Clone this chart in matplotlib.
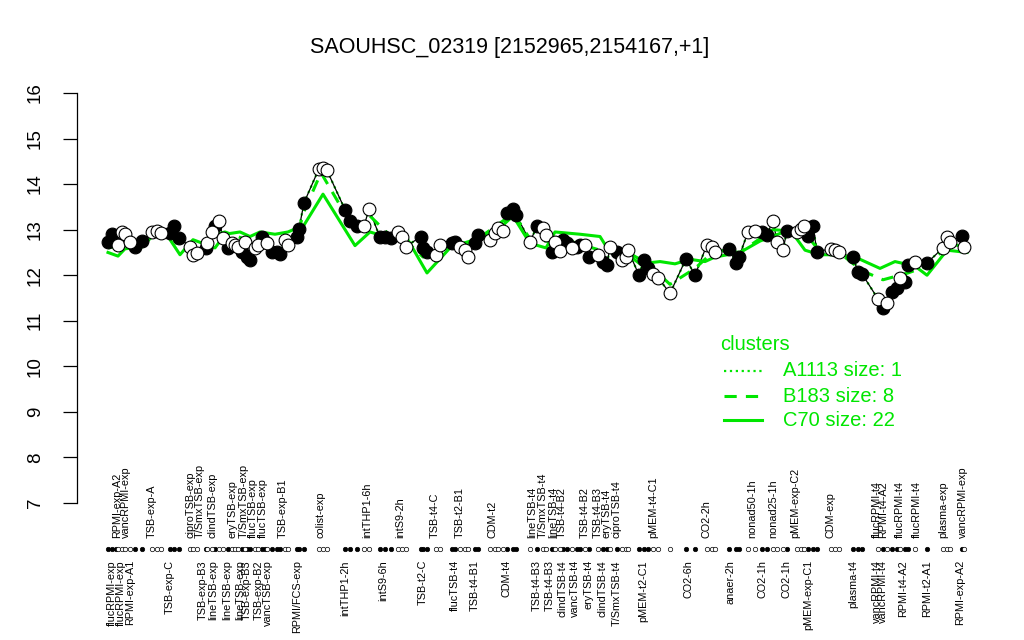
import matplotlib
matplotlib.use("Agg")
import matplotlib.pyplot as plt
from matplotlib.lines import Line2D
from matplotlib.transforms import blended_transform_factory

plt.rcParams['font.family'] = ['Liberation Sans', 'DejaVu Sans']

title = "SAOUHSC_02319 [2152965,2154167,+1]"

# position along the condition axis, expression value, filled (1) / open (0)
pos = [8, 12, 16, 18, 22, 25, 30, 35, 42,
       52, 57, 61,
       70, 74, 79,
       90, 93, 97,
       106, 107, 112, 115, 119, 123, 128, 132, 135, 138, 142, 145, 147, 150,
       155, 158, 162, 165, 167, 172, 177, 180, 185, 188,
       197, 199, 204,
       219, 223, 227,
       245, 250, 257,
       264, 269,
       280, 285, 291,
       298, 302, 306,
       321, 323, 327,
       336, 340,
       352, 355, 360, 365, 368, 375, 378,
       390, 395, 398, 403, 407, 413, 416,
       430,
       437, 443, 446, 452, 455, 460, 463, 467, 472, 477, 480, 485, 489, 498,
       503, 507, 510, 517, 522, 526, 528,
       539, 544, 548, 553, 558,
       570,
       586, 595,
       607, 612, 615,
       629, 636, 639,
       648, 655, 662, 667, 673, 677, 683, 687,
       697, 701, 704, 708, 713, 717,
       731, 735, 739,
       753, 758, 762,
       778, 783, 787, 792, 797, 800, 805, 808, 815,
       827,
       843, 847, 850,
       862, 864]
expr = [12.73, 12.9, 12.8, 12.67, 12.95, 12.9, 12.73, 12.63, 12.75,
        12.95, 12.97, 12.93,
        12.93, 13.07, 12.82,
        12.63, 12.45, 12.48,
        12.6, 12.71, 12.95, 13.07, 13.2, 12.82, 12.6, 12.71, 12.67, 12.63, 12.5, 12.74, 12.41, 12.34,
        12.6, 12.67, 12.85, 12.74, 12.71, 12.52, 12.5, 12.47, 12.78, 12.67,
        12.85, 13.02, 13.59,
        14.34, 14.36, 14.3,
        13.44, 13.18, 13.07,
        13.07, 13.46,
        12.83, 12.83, 12.82,
        12.95, 12.85, 12.63,
        12.85, 12.6, 12.52,
        12.45, 12.67,
        12.71, 12.74, 12.63, 12.56, 12.41, 12.71, 12.89,
        12.78, 12.93, 13.04, 12.98, 13.37, 13.46, 13.33,
        12.74,
        13.07, 13.04, 12.89, 12.52, 12.74, 12.54, 12.78, 12.71, 12.6, 12.63, 12.67, 12.67, 12.39, 12.45,
        12.3, 12.23, 12.63, 12.5, 12.34, 12.39, 12.56,
        12.0, 12.34, 12.16, 12.03, 11.95,
        11.6,
        12.36, 12.0,
        12.67, 12.63, 12.52,
        12.58, 12.27, 12.4,
        12.95, 12.98, 12.95, 12.89, 13.2, 12.74, 12.56, 12.98,
        12.95, 13.02, 13.07, 12.87, 13.07, 12.52,
        12.58, 12.56, 12.5,
        12.39, 12.08, 12.03,
        11.48, 11.28, 11.39, 11.63, 11.72, 11.95, 11.86, 12.23, 12.3,
        12.27,
        12.6, 12.85, 12.72,
        12.87, 12.63]
filled = [1, 1, 1, 0, 0, 0, 0, 1, 1,
          0, 0, 0,
          1, 1, 1,
          0, 0, 0,
          1, 0, 0, 1, 0, 0, 1, 0, 0, 0, 1, 0, 1, 1,
          0, 0, 1, 1, 0, 1, 1, 1, 0, 0,
          1, 1, 1,
          0, 0, 0,
          1, 1, 1,
          0, 0,
          1, 1, 1,
          0, 0, 0,
          1, 1, 1,
          0, 0,
          1, 1, 0, 0, 0, 1, 1,
          0, 0, 0, 0, 1, 1, 1,
          0,
          1, 0, 0, 1, 0, 0, 1, 1, 0, 1, 1, 0, 1, 0,
          1, 1, 0, 1, 0, 0, 0,
          1, 1, 1, 0, 0,
          0,
          1, 1,
          0, 0, 0,
          1, 1, 1,
          0, 0, 1, 1, 0, 0, 0, 1,
          0, 0, 0, 1, 1, 1,
          0, 0, 0,
          1, 1, 1,
          0, 1, 0, 1, 1, 0, 1, 1, 0,
          1,
          0, 0, 0,
          1, 0]

# cluster profiles
c70_pos = [8, 18, 25, 42, 52, 65, 80, 93, 115, 125, 140, 150, 160, 175, 188, 204, 223,
           255, 270, 285, 306, 327, 350, 378, 403, 413, 430, 446, 455, 480, 500, 510,
           528, 540, 560, 575, 590, 605, 615, 640, 660, 690, 705, 720, 740, 760, 780,
           795, 815, 827, 847, 867]
c70_val = [12.5, 12.42, 12.58, 12.62, 12.85, 12.95, 12.45, 12.78, 12.6, 12.9, 12.95, 12.85,
           12.95, 12.9, 12.95, 13.1, 13.78, 12.65, 12.95, 12.85, 12.85, 12.05, 12.6, 12.75,
           13.1, 13.3, 12.7, 12.6, 12.95, 12.9, 12.85, 12.5, 12.45, 12.25, 12.3, 12.25,
           12.35, 12.3, 12.4, 12.5, 12.75, 13.0, 12.55, 12.45, 12.45, 12.35, 12.15, 12.3,
           12.2, 12.0, 12.55, 12.5]
b183_pos = [8, 30, 52, 70, 80, 97, 110, 125, 150, 180, 197, 204, 221, 245, 257, 270, 291,
            306, 323, 340, 378, 413, 430, 446, 470, 500, 528, 548, 570, 595, 615, 640,
            673, 704, 717, 739, 762, 783, 808, 827, 850, 867]
b183_val = [12.6, 12.7, 12.9, 12.9, 12.6, 12.5, 12.85, 12.95, 12.75, 12.8, 12.85, 13.4,
            14.25, 13.35, 13.0, 13.3, 12.85, 12.75, 12.4, 12.55, 12.8, 13.35, 12.8, 12.75,
            12.75, 12.55, 12.5, 12.25, 11.8, 12.15, 12.55, 12.5, 13.0, 12.95, 12.6, 12.5,
            12.1, 11.9, 12.05, 12.2, 12.7, 12.6]

top_labels = [(17, "RPMI-exp-A2"), (26, "vancRPMI-exp"), (52, "TSB-exp-A"),
              (90, "ciproTSB-exp"), (100, "T/SmxTSB-exp"), (112, "clindTSB-exp"),
              (133, "eryTSB-exp"), (144, "T/SmxTSB-exp"), (153, "flucTSB-exp"),
              (163, "flucTSB-exp"), (183, "TSB-exp-B1"), (220, "colist-exp"),
              (267, "intTHP1-6h"), (300, "intS9-2h"), (335, "TSB-t4-C"),
              (360, "TSB-t2-B1"), (392, "CDM-t2"), (432, "lineTSB-t4"),
              (443, "T/SmxTSB-t4"), (453, "lineTSB-t4"), (462, "TSB-t4-B2"),
              (485, "TSB-t4-B2"), (498, "TSB-t4-B3"), (507, "eryTSB-t4"),
              (517, "ciproTSB-t4"), (553, "pMEM-t4-C1"), (607, "CO2-2h"),
              (652, "nonad50-1h"), (673, "nonad25-1h"), (695, "pMEM-exp-C2"),
              (730, "CDM-exp"), (777, "flucRPMI-t4"), (783, "RPMI-t4-A2"),
              (800, "flucRPMI-t4"), (817, "flucRPMI-t4"), (843, "plasma-exp"),
              (863, "vancRPMI-exp")]
bottom_labels = [(12, "flucRPMI-exp"), (21, "flucRPMI-exp"), (30, "RPMI-exp-A1"),
                 (70, "TSB-exp-C"), (103, "TSB-exp-B3"), (113, "lineTSB-exp"),
                 (127, "lineTSB-exp"), (140, "lineTSB-exp"), (147, "TSB-exp-B3"),
                 (159, "TSB-exp-B2"), (168, "vancTSB-exp"), (197, "RPMI/FCS-exp"),
                 (245, "intTHP1-2h"), (283, "intS9-6h"), (323, "TSB-t2-C"),
                 (355, "flucTSB-t4"), (375, "TSB-t4-B1"), (407, "CDM-t4"),
                 (437, "TSB-t4-B3"), (450, "TSB-t4-B3"), (462, "clindTSB-t4"),
                 (475, "vancTSB-t4"), (488, "eryTSB-t4"), (503, "clindTSB-t4"),
                 (517, "T/SmxTSB-t4"), (543, "pMEM-t2-C1"), (588, "CO2-6h"),
                 (630, "anaer-2h"), (663, "CO2-1h"), (687, "CO2-1h"),
                 (708, "pMEM-exp-C1"), (753, "plasma-t4"), (777, "vancRPMI-t4"),
                 (783, "vancRPMI-t4"), (803, "RPMI-t4-A2"), (827, "RPMI-t2-A1"),
                 (860, "RPMI-exp-A2")]

green = "#00e600"

fig = plt.figure(figsize=(10.24, 6.4), dpi=100)
ax = fig.add_axes([77 / 1024, 0.1884, 913 / 1024, 0.6919])
ax.set_xlim(-23, 890)
ax.set_ylim(6.64, 16.36)

for s in ["top", "right", "bottom"]:
    ax.spines[s].set_visible(False)
ax.spines["left"].set_bounds(7, 16)
ax.spines["left"].set_linewidth(0.9)
ax.set_xticks([])
ax.set_yticks(range(7, 17))
ax.tick_params(axis="y", length=10, width=0.9, pad=14, labelsize=13.5)
for t in ax.get_yticklabels():
    t.set_rotation(90)
    t.set_va("center")

# black profile line
ax.plot(pos, expr, color="black", lw=0.9, zorder=2)
# cluster lines
ax.plot(pos, expr, color=green, lw=1.6, ls=":", zorder=1)
ax.plot(b183_pos, b183_val, color=green, lw=2.2, ls=(0, (4, 3)), zorder=3)
ax.plot(c70_pos, c70_val, color=green, lw=2.2, zorder=3)

fp = [p for p, f in zip(pos, filled) if f]
fv = [v for v, f in zip(expr, filled) if f]
op = [p for p, f in zip(pos, filled) if not f]
ov = [v for v, f in zip(expr, filled) if not f]
ax.plot(fp, fv, "o", ms=9.2, mfc="black", mec="black", mew=0.8, zorder=4, ls="none")
ax.plot(op, ov, "o", ms=9.2, mfc="white", mec="black", mew=0.8, zorder=4, ls="none")

# condition strip below the plot
tr = blended_transform_factory(ax.transData, fig.transFigure)
strip_y = (640 - 549) / 640
ax.plot(fp, [strip_y] * len(fp), "o", ms=3.2, mfc="black", mec="black", mew=0.5,
        transform=tr, clip_on=False, ls="none")
ax.plot(op, [strip_y] * len(op), "o", ms=3.2, mfc="white", mec="black", mew=0.5,
        transform=tr, clip_on=False, ls="none")

for x, lab in top_labels:
    ax.text(x, (640 - 538) / 640, lab, rotation=90, ha="center", va="bottom",
            fontsize=7.8, transform=tr)
for x, lab in bottom_labels:
    ax.text(x, (640 - 560) / 640, lab, rotation=90, ha="center", va="top",
            fontsize=7.8, transform=tr)

fig.text(510 / 1024, (640 - 47) / 640, title, ha="center", va="center", fontsize=15.5)

# legend
def fy(py):
    return (640 - py) / 640

fig.text(720 / 1024, fy(344), "clusters", color=green, fontsize=14.5, va="center")
leg = [(":", 1.6, "A1113 size: 1", 371), ((0, (4, 3)), 2.2, "B183 size: 8", 396),
       ("-", 2.2, "C70 size: 22", 420)]
for ls, lw, txt, py in leg:
    fig.add_artist(Line2D([724 / 1024, 762 / 1024], [fy(py), fy(py)], color=green,
                          ls=ls, lw=lw))
    fig.text(783 / 1024, fy(py), txt, color=green, fontsize=14.5, va="center")

fig.savefig("out.png", dpi=100)
